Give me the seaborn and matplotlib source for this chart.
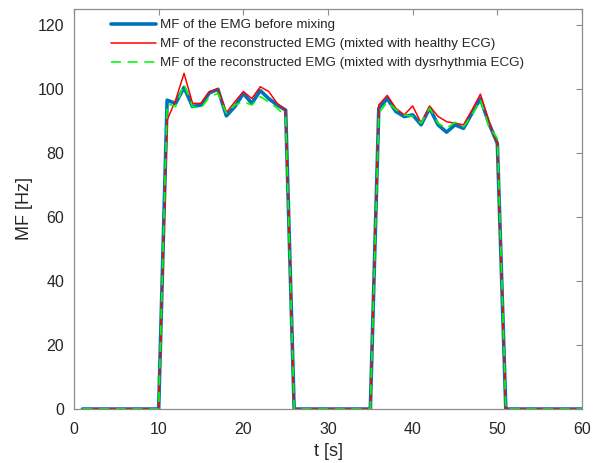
import numpy as np
import pandas as pd
import matplotlib
matplotlib.use("Agg")
import matplotlib.pyplot as plt
import seaborn as sns

# time axis (1 s steps)
t = list(range(1, 61))

zeros10 = [0] * 10
mf_before = (zeros10
             + [96.5, 95.5, 100.5, 94.5, 95, 98.8, 99.9, 91.6, 94.5, 98.6, 95.5, 99.5, 97, 95, 93.4]
             + zeros10
             + [94, 97, 93, 91.4, 91.9, 88.8, 94, 88.8, 86.5, 88.8, 87.7, 92.4, 97, 89.3, 83]
             + zeros10)
mf_healthy = (zeros10
              + [90.3, 96.5, 104.9, 95.5, 95.5, 99.2, 100, 92.6, 96, 99.2, 97, 100.7, 99.2, 95.5, 93.4]
              + zeros10
              + [95, 98, 94, 91.9, 94.7, 89.3, 94.7, 91.4, 89.8, 89.3, 88.8, 93.4, 98.4, 89.8, 83]
              + zeros10)
mf_dysrhythmia = (zeros10
                  + [95.5, 94.5, 101.5, 94.5, 94, 97.6, 98.6, 92.4, 95, 96, 95, 97.6, 96, 94, 91.4]
                  + zeros10
                  + [92.4, 96, 93.6, 91.9, 91.4, 89.3, 94, 89.3, 87.7, 89.6, 88.2, 91.9, 96.6, 88.2, 84.6]
                  + zeros10)

labels = ["MF of the EMG before mixing",
          "MF of the reconstructed EMG (mixted with healthy ECG)",
          "MF of the reconstructed EMG (mixted with dysrhythmia ECG)"]

df = pd.DataFrame({"t": t, "before": mf_before, "healthy": mf_healthy, "dys": mf_dysrhythmia})

sns.set_style("white")
plt.rcParams["font.family"] = ["Liberation Sans", "DejaVu Sans"]

fig = plt.figure(figsize=(6.04, 4.63), dpi=100)
ax = fig.add_axes([0.1225, 0.1166, 0.8411, 0.864])

sns.lineplot(data=df, x="t", y="before", ax=ax, color="#0072BD", linewidth=2.6, label=labels[0])
sns.lineplot(data=df, x="t", y="healthy", ax=ax, color="#FF0000", linewidth=1.1, label=labels[1])
sns.lineplot(data=df, x="t", y="dys", ax=ax, color="#00FF00", linewidth=1.2,
             linestyle=(0, (6, 4)), label=labels[2])

ax.set_xlim(0, 60)
ax.set_ylim(0, 125)
ax.set_xticks(range(0, 61, 10))
ax.set_yticks(range(0, 121, 20))
ax.set_xlabel("t [s]", fontsize=13, color="#262626", labelpad=4)
ax.set_ylabel("MF [Hz]", fontsize=13, color="#262626", labelpad=3)

for s in ax.spines.values():
    s.set_visible(True)
    s.set_color("#8c8c8c")
    s.set_linewidth(0.9)
ax.tick_params(direction="in", length=4, width=0.8, color="#8c8c8c",
               labelsize=11.5, labelcolor="#262626", top=True, right=True,
               labeltop=False, labelright=False)
ax.tick_params(axis="x", pad=9.5)
ax.tick_params(axis="y", pad=7)

leg = ax.legend(loc="upper left", bbox_to_anchor=(0.054, 0.998), frameon=False,
                fontsize=9.6, handlelength=3.4, handletextpad=0.3, labelspacing=0.5,
                borderaxespad=0.3)

fig.savefig("out.png", dpi=100)
